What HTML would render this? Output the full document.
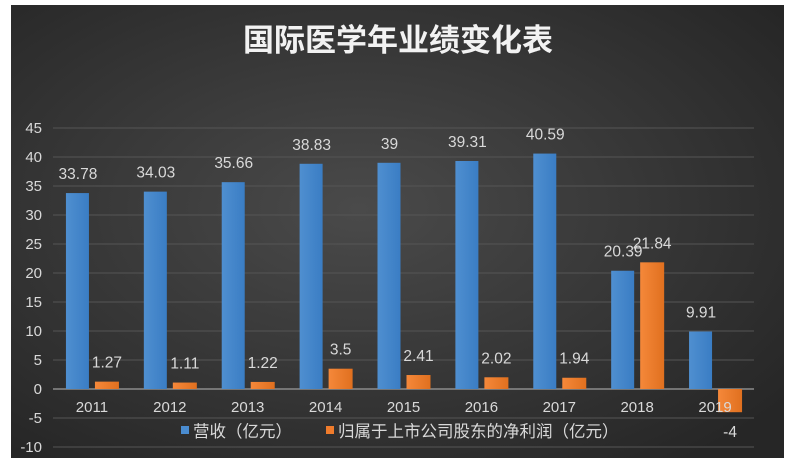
<!DOCTYPE html>
<html><head><meta charset="utf-8"><style>
body{margin:0;background:#fff;width:796px;height:458px;overflow:hidden}
svg text{font-family:"Liberation Sans","Noto Sans CJK SC",sans-serif}
</style></head><body>
<svg width="796" height="458">
<defs>
<radialGradient id="bg" cx="45%" cy="45%" r="70%"><stop offset="0" stop-color="#4a4a4a"/><stop offset="1" stop-color="#262626"/></radialGradient>
<linearGradient id="gb" x1="0" x2="1"><stop offset="0" stop-color="#4f8fd0"/><stop offset="1" stop-color="#3a7dc4"/></linearGradient>
<linearGradient id="go" x1="0" x2="1"><stop offset="0" stop-color="#f5883a"/><stop offset="1" stop-color="#e0701f"/></linearGradient>
</defs>
<rect x="11" y="5" width="773" height="453" fill="url(#bg)"/>
<text x="398" y="51" text-anchor="middle" fill="#f2f2f2" font-size="31" font-weight="bold">国际医学年业绩变化表</text>
<g id="grid"></g><g id="bars"></g><g id="labels"></g>
<g>
<rect x="181" y="426" width="8" height="8" fill="#4a8cd0"/>
<text x="193" y="437" fill="#d9d9d9" font-size="16.5">营收（亿元）</text>
<rect x="326" y="426" width="8" height="8" fill="#f07c2c"/>
<text x="338" y="437" fill="#d9d9d9" font-size="16.5">归属于上市公司股东的净利润（亿元）</text>
</g>
</svg>
<script>
const categories=["2011","2012","2013","2014","2015","2016","2017","2018","2019"];
const revenue=[33.78,34.03,35.66,38.83,39,39.31,40.59,20.39,9.91];
const profit=[1.27,1.11,1.22,3.5,2.41,2.02,1.94,21.84,-4];
const ticks=[45,40,35,30,25,20,15,10,5,0,-5,-10];
const NS="http://www.w3.org/2000/svg";
const x0=53,x1=754,yTop=128,yBot=447,vMax=45,vMin=-10;
const y=v=>yTop+(vMax-v)*(yBot-yTop)/(vMax-vMin);
const step=(x1-x0)/categories.length;
const cx=i=>x0+step*(i+0.5);
function mk(tag,attrs,parent){const e=document.createElementNS(NS,tag);for(const k in attrs)e.setAttribute(k,attrs[k]);document.getElementById(parent).appendChild(e);return e;}
ticks.forEach(t=>{
 const l=mk('line',{x1:x0,x2:x1,y1:y(t),y2:y(t),stroke:t===0?'#8c8c8c':'#555',"stroke-width":t===0?1.5:1},'grid');
 
 
 const tx=mk('text',{x:42,y:y(t)+5,"text-anchor":"end",fill:"#d9d9d9","font-size":15},'grid');tx.textContent=t;
 
 
});
categories.forEach((c,i)=>{
 const t=mk('text',{x:cx(i),y:412,"text-anchor":"middle",fill:"#d9d9d9","font-size":15},'labels');t.textContent=c;
 
 
 const r=revenue[i],p=profit[i];
 const b=mk('rect',{x:cx(i)-26,width:23,y:Math.min(y(r),y(0)),height:Math.abs(y(r)-y(0)),fill:'url(#gb)'},'bars');
 
 
 const o=mk('rect',{x:cx(i)+3,width:24,y:Math.min(y(p),y(0)),height:Math.abs(y(p)-y(0)),fill:'url(#go)'},'bars');
 
 
 const lr=mk('text',{x:cx(i)-14,y:y(r)-14,"text-anchor":"middle",fill:"#d9d9d9","font-size":15.5},'labels');lr.textContent=r;
 
 
 const lp=mk('text',{x:cx(i)+15,y:p<0?y(p)+25:y(p)-14,"text-anchor":"middle",fill:"#d9d9d9","font-size":15.5},'labels');lp.textContent=p;
 
 
});
</script>
</body></html>
